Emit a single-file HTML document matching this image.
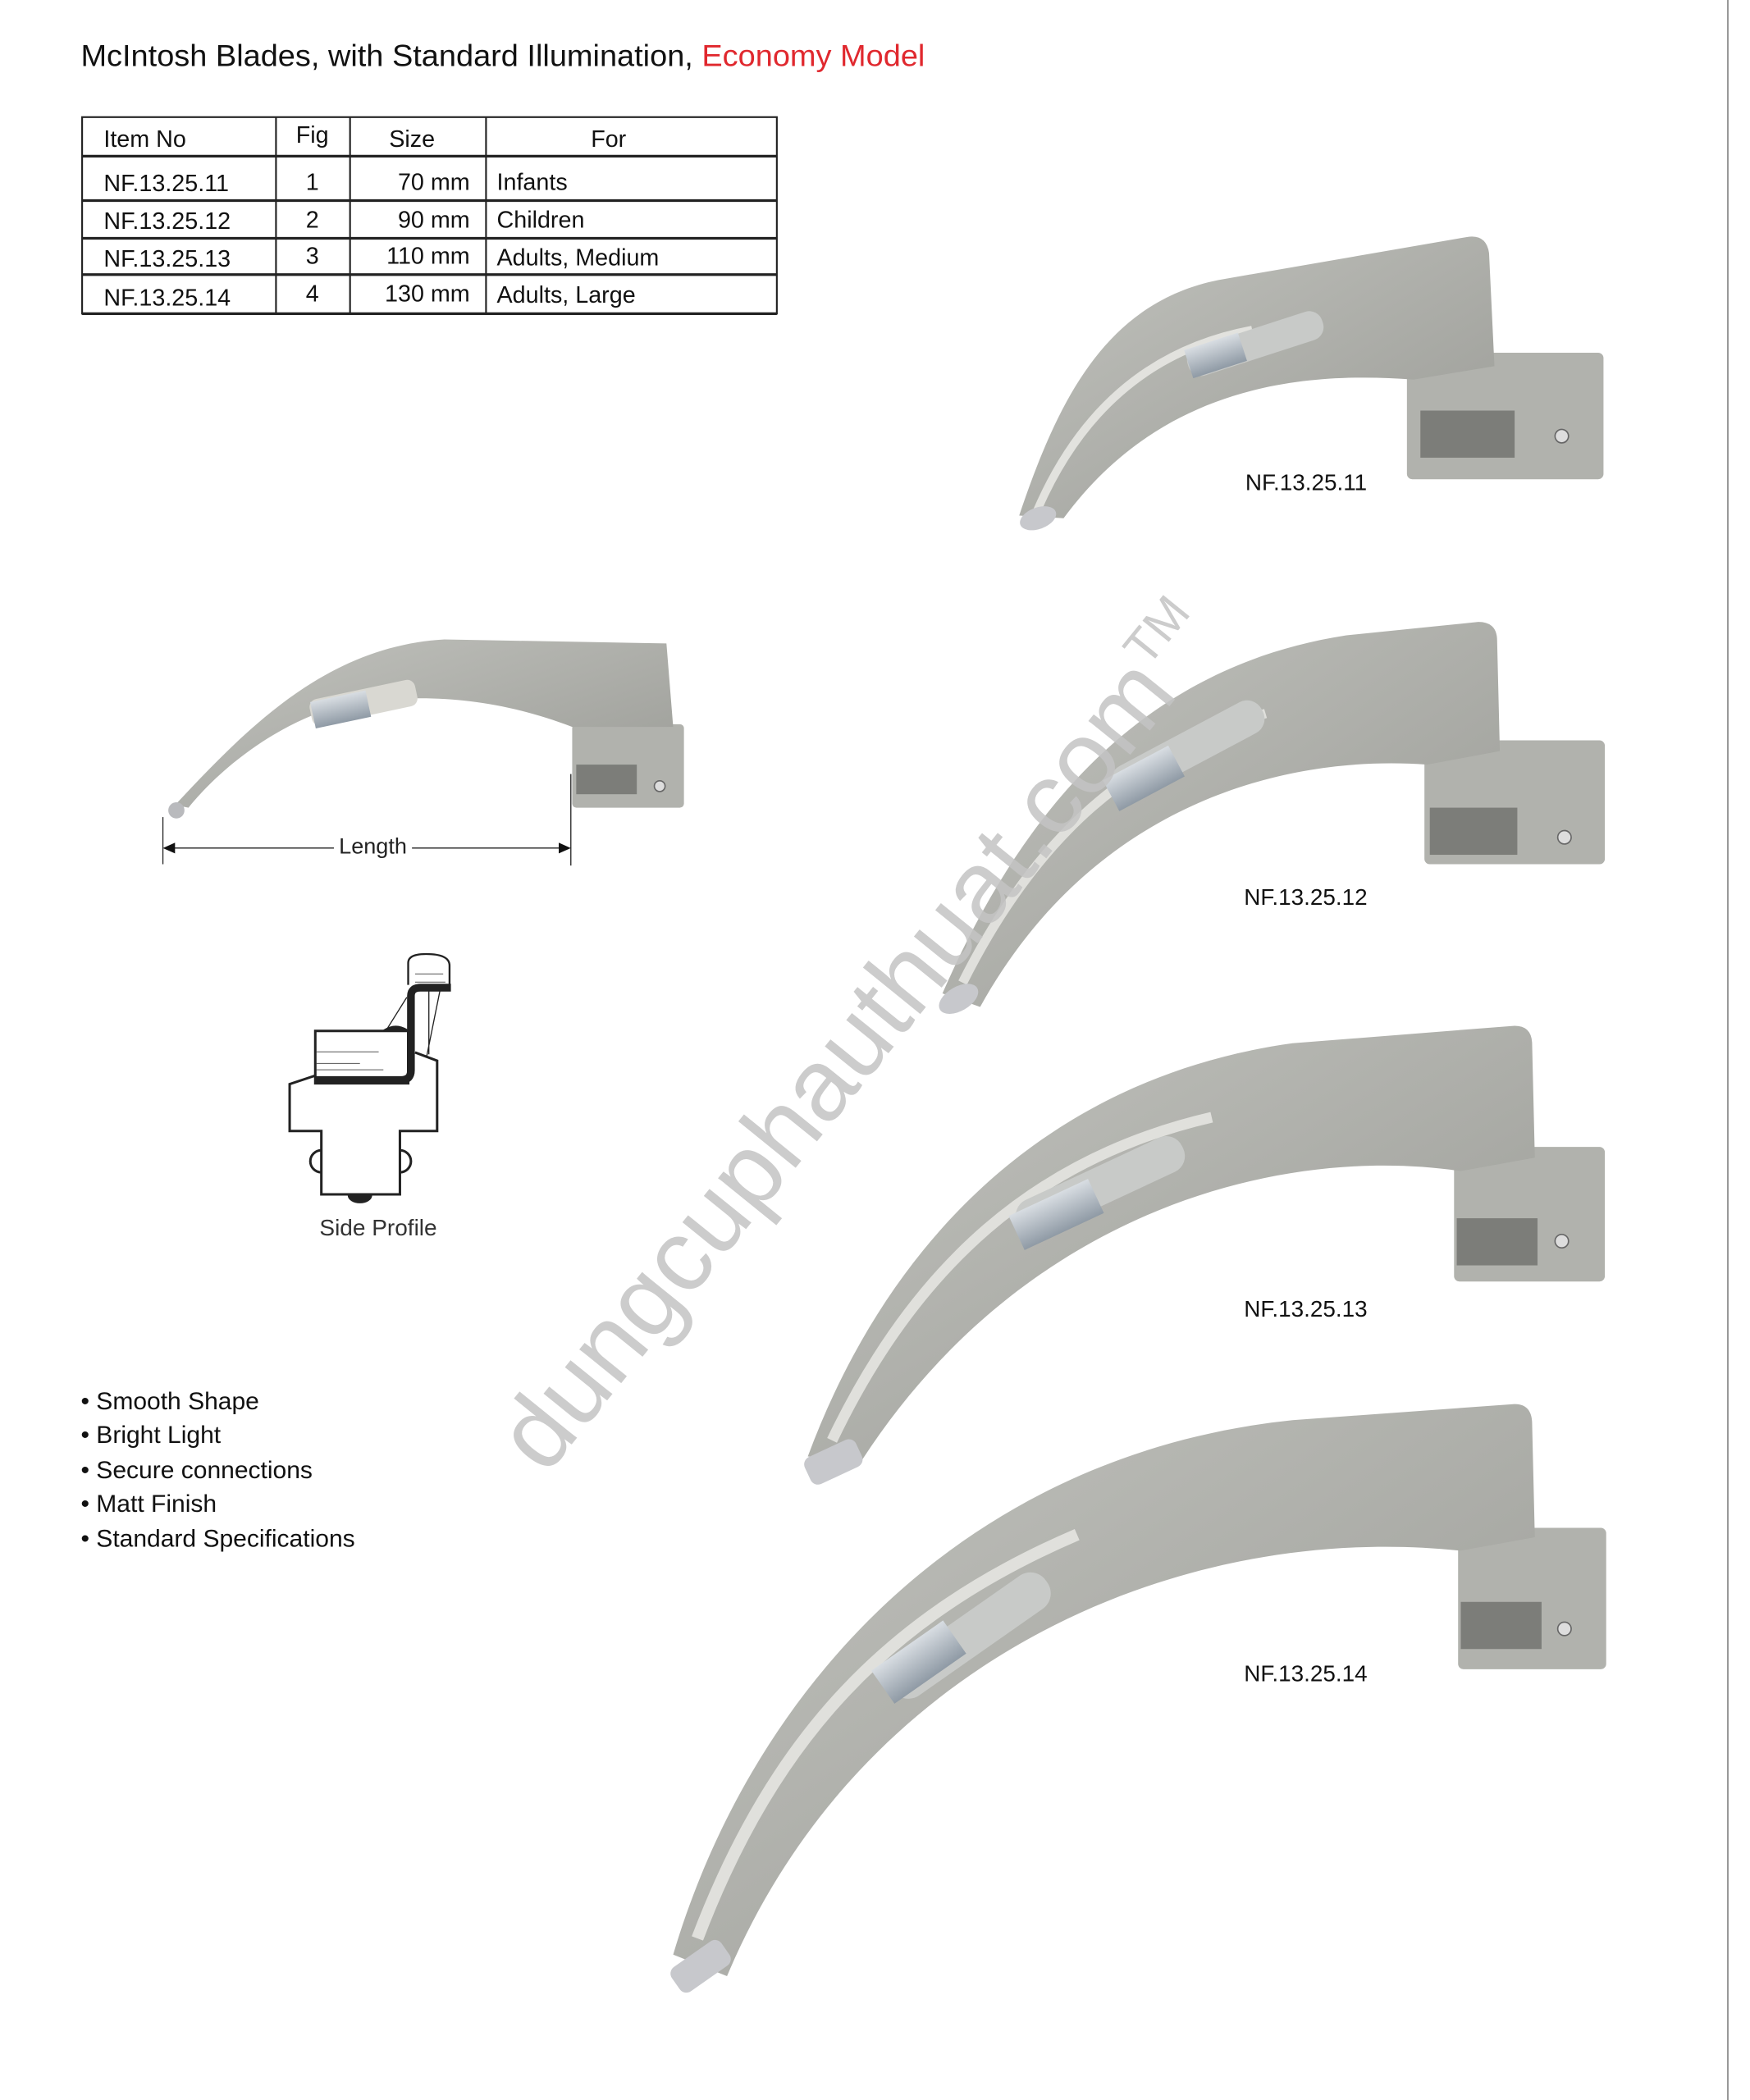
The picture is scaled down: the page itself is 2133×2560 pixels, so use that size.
<!DOCTYPE html>
<html><head><meta charset="utf-8"><style>
html,body{margin:0;padding:0;background:#fff;}
svg{display:block;}
text{font-family:"Liberation Sans",Arial,sans-serif;}
</style></head><body>
<svg width="2133" height="2560" viewBox="0 0 2133 2560" xmlns="http://www.w3.org/2000/svg">
<defs>
<linearGradient id="b" x1="0" y1="0" x2="1" y2="1">
<stop offset="0" stop-color="#c2c3be"/><stop offset="0.5" stop-color="#aeafaa"/><stop offset="1" stop-color="#999a95"/>
</linearGradient>
<linearGradient id="c" x1="0" y1="0" x2="0" y2="1">
<stop offset="0" stop-color="#d8dde2"/><stop offset="1" stop-color="#8f9aa5"/>
</linearGradient>
</defs>
<line x1="2106" y1="0" x2="2106" y2="2560" stroke="#999" stroke-width="2"/>
<g transform="scale(1.641)">
<text x="60" y="49" font-size="22.5" fill="#111" textLength="627" lengthAdjust="spacingAndGlyphs">McIntosh Blades, with Standard Illumination, <tspan fill="#e0282e">Economy Model</tspan></text>
<g stroke="#222" fill="none">
<rect x="61" y="87" width="516" height="146" stroke-width="1.3"/>
<line x1="61" y1="116" x2="577" y2="116" stroke-width="2"/>
<line x1="61" y1="149" x2="577" y2="149" stroke-width="2"/>
<line x1="61" y1="177" x2="577" y2="177" stroke-width="2"/>
<line x1="61" y1="204" x2="577" y2="204" stroke-width="2"/>
<line x1="61" y1="233" x2="577" y2="233" stroke-width="2"/>
<line x1="205" y1="87" x2="205" y2="233" stroke-width="1.3"/>
<line x1="260" y1="87" x2="260" y2="233" stroke-width="1.3"/>
<line x1="361" y1="87" x2="361" y2="233" stroke-width="1.3"/>
</g>
<g font-size="17.5" fill="#111">
<text x="77" y="109">Item No</text><text x="232" y="106" text-anchor="middle">Fig</text><text x="306" y="109" text-anchor="middle">Size</text><text x="452" y="109" text-anchor="middle">For</text>
<text x="77" y="142">NF.13.25.11</text><text x="232" y="141" text-anchor="middle">1</text><text x="349" y="141" text-anchor="end">70 mm</text><text x="369" y="141">Infants</text>
<text x="77" y="170">NF.13.25.12</text><text x="232" y="169" text-anchor="middle">2</text><text x="349" y="169" text-anchor="end">90 mm</text><text x="369" y="169">Children</text>
<text x="77" y="198">NF.13.25.13</text><text x="232" y="196" text-anchor="middle">3</text><text x="349" y="196" text-anchor="end">110 mm</text><text x="369" y="197">Adults, Medium</text>
<text x="77" y="227">NF.13.25.14</text><text x="232" y="224" text-anchor="middle">4</text><text x="349" y="224" text-anchor="end">130 mm</text><text x="369" y="225">Adults, Large</text>
</g>

<g>
<rect x="1045" y="262" width="146" height="94" rx="4" fill="#b1b2ad"/>
<rect x="1055" y="305" width="70" height="35" fill="#7c7d79"/>
<circle cx="1160" cy="324" r="5" fill="#ddd" stroke="#666"/>
<path d="M757,383 C785,300 820,225 905,208 L1090,176 Q1104,174 1106,188 L1110,272 L1050,282 C960,275 860,290 790,385 Z" fill="url(#b)"/>
<path d="M770,380 C800,310 850,260 930,245" stroke="#e2e2de" stroke-width="6" fill="none"/>
<rect x="880" y="245" width="105" height="22" rx="10" fill="#c8cac8" transform="rotate(-18 930 256)"/>
<rect x="882" y="254" width="42" height="22" fill="url(#c)" transform="rotate(-18 900 265)"/>
<ellipse cx="771" cy="385" rx="14" ry="8" fill="#c7c8cc" transform="rotate(-20 771 385)"/>
</g>
<text x="925" y="364" font-size="17" fill="#111">NF.13.25.11</text>

<g>
<rect x="1058" y="550" width="134" height="92" rx="4" fill="#b1b2ad"/>
<rect x="1062" y="600" width="65" height="35" fill="#7c7d79"/>
<circle cx="1162" cy="622" r="5" fill="#ddd" stroke="#666"/>
<path d="M700,738 C760,600 850,495 1000,472 L1098,462 Q1112,462 1112,476 L1114,558 L1060,568 C950,560 810,600 728,748 Z" fill="url(#b)"/>
<path d="M715,730 C770,620 840,560 940,530" stroke="#e0e0dc" stroke-width="7" fill="none"/>
<rect x="820" y="545" width="125" height="26" rx="12" fill="#c8cac8" transform="rotate(-28 880 558)"/>
<rect x="822" y="565" width="55" height="26" fill="url(#c)" transform="rotate(-28 850 578)"/>
<ellipse cx="712" cy="742" rx="16" ry="9" fill="#c7c8cc" transform="rotate(-30 712 742)"/>
</g>
<text x="924" y="672" font-size="17" fill="#111">NF.13.25.12</text>

<g>
<rect x="1080" y="852" width="112" height="100" rx="4" fill="#b1b2ad"/>
<rect x="1082" y="905" width="60" height="35" fill="#7c7d79"/>
<circle cx="1160" cy="922" r="5" fill="#ddd" stroke="#666"/>
<path d="M600,1082 C660,920 780,800 960,775 L1125,762 Q1138,762 1138,776 L1140,860 L1085,870 C950,850 760,900 640,1085 Z" fill="url(#b)"/>
<path d="M618,1070 C680,940 770,860 900,830" stroke="#e0e0dc" stroke-width="8" fill="none"/>
<rect x="750" y="868" width="135" height="28" rx="13" fill="#c8cac8" transform="rotate(-25 815 882)"/>
<rect x="752" y="888" width="65" height="28" fill="url(#c)" transform="rotate(-25 785 902)"/>
<rect x="598" y="1075" width="42" height="22" rx="6" fill="#c7c8cc" transform="rotate(-25 619 1086)"/>
</g>
<text x="924" y="978" font-size="17" fill="#111">NF.13.25.13</text>

<g>
<rect x="1083" y="1135" width="110" height="105" rx="4" fill="#b1b2ad"/>
<rect x="1085" y="1190" width="60" height="35" fill="#7c7d79"/>
<circle cx="1162" cy="1210" r="5" fill="#ddd" stroke="#666"/>
<path d="M500,1452 C560,1250 720,1080 960,1055 L1125,1043 Q1138,1043 1138,1058 L1140,1142 L1085,1152 C880,1130 640,1230 540,1468 Z" fill="url(#b)"/>
<path d="M518,1440 C575,1290 660,1200 800,1140" stroke="#e0e0dc" stroke-width="9" fill="none"/>
<rect x="650" y="1200" width="140" height="30" rx="14" fill="#c8cac8" transform="rotate(-35 720 1215)"/>
<rect x="650" y="1220" width="65" height="30" fill="url(#c)" transform="rotate(-35 682 1235)"/>
<rect x="498" y="1450" width="45" height="22" rx="6" fill="#c7c8cc" transform="rotate(-35 520 1461)"/>
</g>
<text x="924" y="1249" font-size="17" fill="#111">NF.13.25.14</text>

<g>
<rect x="425" y="538" width="83" height="62" rx="3" fill="#b1b2ad"/>
<rect x="428" y="568" width="45" height="22" fill="#7c7d79"/>
<circle cx="490" cy="584" r="4" fill="#ddd" stroke="#666"/>
<path d="M130,598 C180,545 240,480 330,475 L495,478 L500,540 L425,540 C360,515 300,515 250,525 C200,540 160,575 140,600 Z" fill="url(#b)"/>
<rect x="230" y="512" width="80" height="20" rx="6" fill="#d9d8d2" transform="rotate(-12 270 522)"/>
<rect x="232" y="517" width="42" height="20" fill="url(#c)" transform="rotate(-12 253 527)"/>
<circle cx="131" cy="602" r="6" fill="#b9babd"/>
</g>
<g stroke="#222" stroke-width="0.8">
<line x1="121" y1="607" x2="121" y2="642"/>
<line x1="424" y1="575" x2="424" y2="643"/>
<line x1="128" y1="630" x2="248" y2="630"/>
<line x1="306" y1="630" x2="418" y2="630"/>
</g>
<path d="M121,630 L130,626 L130,634 Z M424,630 L415,626 L415,634 Z" fill="#111"/>
<text x="277" y="634" font-size="16.5" fill="#222" text-anchor="middle">Length</text>

<g font-size="18.3" fill="#111">
<text x="60" y="1047">• Smooth Shape</text>
<text x="60" y="1072">• Bright Light</text>
<text x="60" y="1098">• Secure connections</text>
<text x="60" y="1123">• Matt Finish</text>
<text x="60" y="1149">• Standard Specifications</text>
</g>
</g>

<g transform="translate(180,1120) scale(0.336)" fill="none" stroke="#222" stroke-width="9" stroke-linejoin="miter">
<path d="M630,880 m0,-40 a40,40 0 0,0 0,80" />
<path d="M915,880 m0,-40 a40,40 0 0,1 0,80" />
<path d="M730,1003 a40,25 0 0,0 80,0" fill="#222"/>
<path d="M605,570 L515,600 L515,770 L630,770 L630,1000 L915,1000 L915,770 L1050,770 L1050,515 L970,485"/>
<rect x="608" y="407" width="337" height="190" fill="#fff"/>
<path d="M608,585 L920,585 Q955,585 955,550 L955,280 Q955,250 990,250 L1100,250" stroke-width="28"/>
<path d="M945,240 L945,160 Q945,128 1010,128 Q1095,128 1095,170 L1095,240" stroke-width="7"/>
<path d="M940,285 L865,405 M1020,262 L1020,492 M1060,262 L1012,500" stroke-width="4"/>
<path d="M860,405 Q900,380 940,405 Z" fill="#222"/>
<path d="M612,483 L838,483 M612,525 L770,525 M612,548 L855,548 M970,200 L1072,200 M970,230 L1080,230" stroke-width="3" stroke="#555"/>
</g>
<text x="461" y="1506" font-size="28" fill="#333" text-anchor="middle">Side Profile</text>

<text x="0" y="0" font-size="124" fill="#c4c4c4" opacity="0.85" transform="translate(665,1800) rotate(-51)">dungcuphauthuat.com<tspan font-size="60" dy="-50">TM</tspan></text>
</svg>
</body></html>
